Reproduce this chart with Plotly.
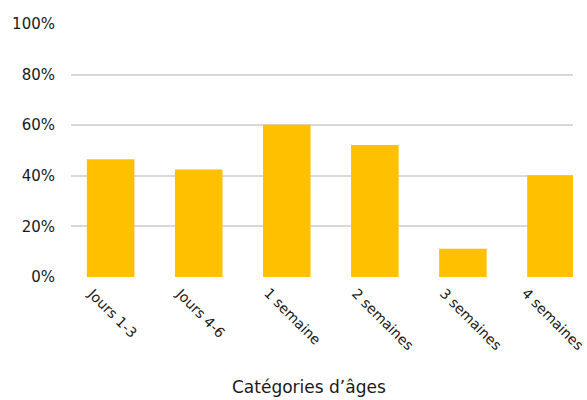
import plotly.graph_objects as go

categories = ["Jours 1-3", "Jours 4-6", "1 semaine", "2 semaines", "3 semaines", "4 semaines"]
values = [46.5, 42.5, 60.2, 52.2, 11.2, 40.2]
y_ticks = [0, 20, 40, 60, 80, 100]
y_tick_labels = ["0%", "20%", "40%", "60%", "80%", "100%"]
x_title = "Catégories d’âges"

font_family = "DejaVu Sans, sans-serif"
text_color = "#1a1a1a"

fig = go.Figure(go.Bar(
    x=list(range(len(categories))),
    y=values,
    marker=dict(color="#FFC000", line=dict(width=0)),
    width=0.54,
))

annotations = []
for i, cat in enumerate(categories):
    shift = -29 if i < len(categories) - 1 else -35
    annotations.append(dict(
        text=cat, x=i, y=0, xref="x", yref="paper",
        xanchor="left", yanchor="top", textangle=45,
        xshift=shift, yshift=-5, showarrow=False,
        font=dict(size=14, color=text_color, family=font_family),
    ))

annotations.append(dict(
    text=x_title, xref="paper", yref="paper",
    x=(307 - 67) / (573 - 67), y=-(387 - 277) / (277 - 24),
    xanchor="center", yanchor="middle", showarrow=False,
    font=dict(size=17, color=text_color, family=font_family),
))

fig.update_layout(
    width=587, height=400,
    margin=dict(l=67, r=14, t=24, b=123),
    paper_bgcolor="white", plot_bgcolor="white",
    showlegend=False,
    font=dict(family=font_family, color=text_color),
    xaxis=dict(
        range=[-0.45, 5.25],
        showticklabels=False,
        showgrid=False, zeroline=False, showline=False,
        ticks="",
    ),
    yaxis=dict(
        range=[0, 100],
        tickmode="array",
        tickvals=y_ticks,
        ticktext=y_tick_labels,
        tickfont=dict(size=15, color=text_color),
        showgrid=True, gridcolor="#d9d9d9", gridwidth=1.5,
        zeroline=False, showline=False,
        ticks="", ticklabelstandoff=15,
    ),
    annotations=annotations,
)

fig.write_html("out.html")
